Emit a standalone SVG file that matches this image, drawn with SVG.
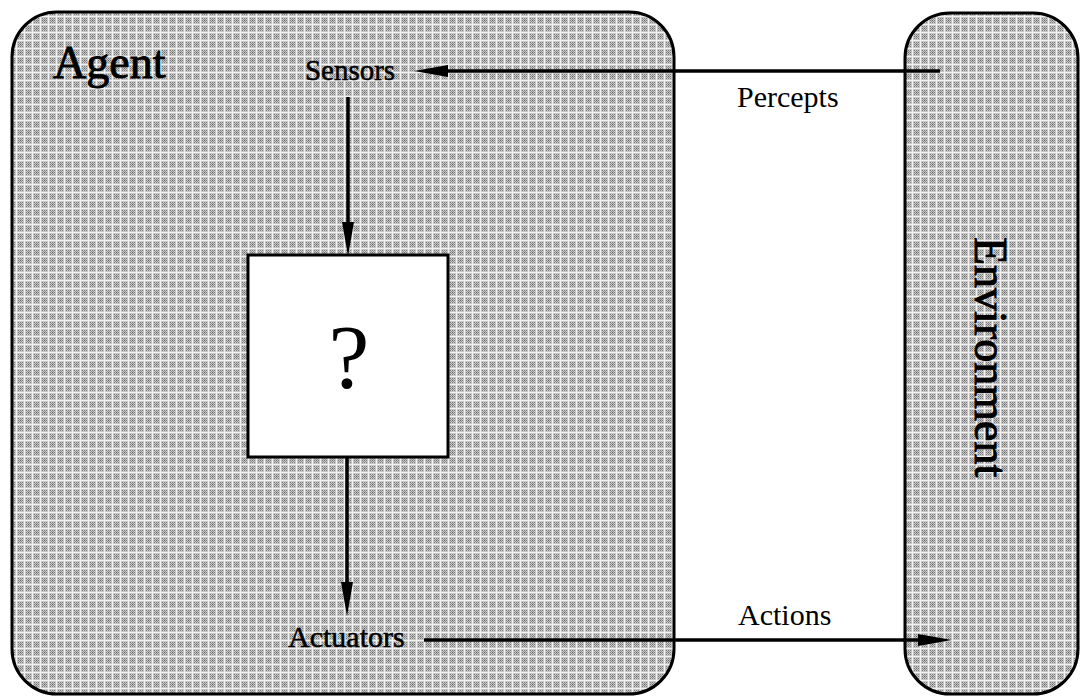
<svg xmlns="http://www.w3.org/2000/svg" width="1081" height="698" viewBox="0 0 1081 698">
  <defs>
    <!-- halftone screen used for the shaded regions -->
    <pattern id="screen" width="8" height="8" patternUnits="userSpaceOnUse">
      <rect width="8" height="8" fill="#c6c6c6"/>
      <rect width="8" height="1" fill="#f2f2f2"/>
      <rect width="1" height="8" fill="#f2f2f2"/>
      <rect x="2" y="2" width="1" height="1" fill="#7d7d7d"/>
      <rect x="4" y="2" width="1" height="1" fill="#7d7d7d"/>
      <rect x="6" y="2" width="1" height="1" fill="#7d7d7d"/>
      <rect x="3" y="3" width="1" height="1" fill="#949494"/>
      <rect x="5" y="3" width="1" height="1" fill="#949494"/>
      <rect x="2" y="4" width="1" height="1" fill="#7d7d7d"/>
      <rect x="4" y="4" width="1" height="1" fill="#666"/>
      <rect x="6" y="4" width="1" height="1" fill="#7d7d7d"/>
      <rect x="3" y="5" width="1" height="1" fill="#949494"/>
      <rect x="5" y="5" width="1" height="1" fill="#949494"/>
      <rect x="2" y="6" width="1" height="1" fill="#7d7d7d"/>
      <rect x="4" y="6" width="1" height="1" fill="#7d7d7d"/>
      <rect x="6" y="6" width="1" height="1" fill="#7d7d7d"/>
    </pattern>
    <marker id="head" viewBox="0 -7 34 14" refX="10" refY="0" markerWidth="34" markerHeight="14" markerUnits="userSpaceOnUse" orient="auto">
      <path d="M0,-6 L34,0 L0,6 Z" fill="#000"/>
    </marker>
  </defs>
  <style>
    .region { fill: url(#screen); stroke: #000; stroke-width: 3; }
    .label { font-family: "Liberation Serif", "Times New Roman", serif; fill: #000; stroke: #000; stroke-width: 0.5; }
    .conn { stroke: #000; stroke-width: 3.5; fill: none; marker-end: url(#head); }
  </style>

  <rect width="1081" height="698" fill="#fff"/>

  <g id="agent">
    <rect class="region" x="12" y="12" width="662" height="682" rx="45" ry="45"/>
    <text class="label" x="53" y="78" font-size="46" style="stroke-width:0.9">Agent</text>
  </g>

  <g id="environment">
    <rect class="region" x="905" y="13" width="173" height="681" rx="45" ry="45"/>
    <text class="label" font-size="46" style="stroke-width:0.9" transform="translate(975,237) rotate(90)">Environment</text>
  </g>

  <g id="sensors">
    <text class="label" x="350" y="80" font-size="29" text-anchor="middle">Sensors</text>
  </g>

  <g id="program">
    <rect x="248" y="255" width="200" height="202" fill="#fff" stroke="#000" stroke-width="3"/>
    <text class="label" x="349" y="388" font-size="92" text-anchor="middle" style="stroke-width:0">?</text>
  </g>

  <g id="actuators">
    <text class="label" x="288" y="647" font-size="30">Actuators</text>
  </g>

  <g id="connectors">
    <line class="conn" x1="940" y1="71" x2="438" y2="71"/>
    <line class="conn" x1="348" y1="97" x2="348" y2="232"/>
    <line class="conn" x1="347" y1="457" x2="347" y2="592"/>
    <line class="conn" x1="424" y1="640" x2="928" y2="640"/>
    <text class="label" x="737" y="107" font-size="30" style="stroke-width:0">Percepts</text>
    <text class="label" x="738" y="625" font-size="30" style="stroke-width:0">Actions</text>
  </g>
</svg>
